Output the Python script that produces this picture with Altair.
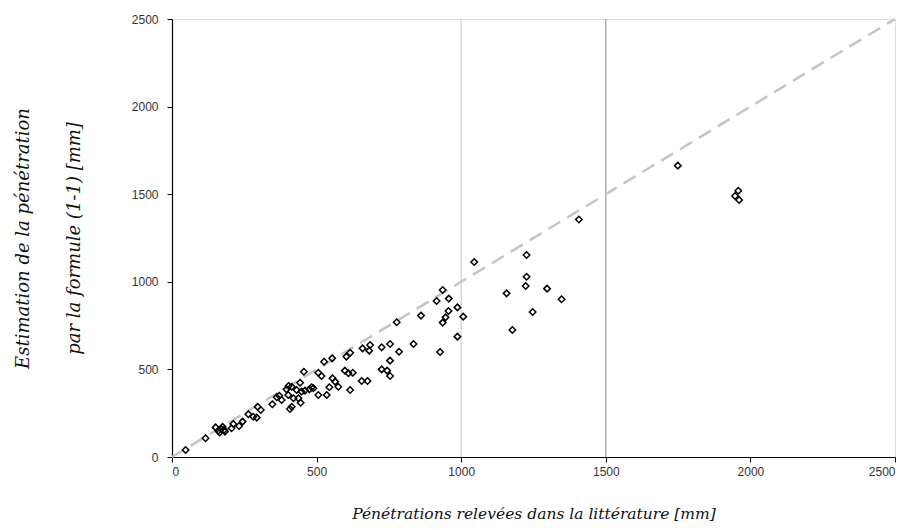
import altair as alt
import pandas as pd

# Measured penetration (literature) [mm]
x_obs = [47, 116, 151, 160, 165, 170, 175, 180, 183, 206, 212, 232, 244, 264, 281, 293, 296, 307,
         347, 362, 371, 379, 396, 402, 403, 408, 414, 414, 420, 431, 437, 443, 445, 448, 456, 460,
         475, 483, 489, 506, 506, 517, 526, 535, 544, 554, 555, 564, 575, 598, 603, 610, 616, 616,
         625, 656, 659, 676, 682, 685, 725, 725, 744, 754, 754, 754, 777, 785, 835, 861, 915, 927,
         936, 936, 946, 956, 957, 987, 987, 1007, 1045, 1157, 1177, 1223, 1226, 1226, 1247, 1297,
         1347, 1407, 1749, 1947, 1958, 1961]
# Estimated penetration by formula (1-1) [mm]
y_est = [40, 107, 169, 150, 140, 160, 172, 155, 145, 164, 188, 177, 202, 244, 230, 225, 287, 268,
         301, 341, 350, 325, 386, 354, 405, 274, 401, 287, 335, 382, 335, 424, 310, 373, 487, 379,
         386, 398, 392, 481, 354, 462, 544, 354, 398, 563, 449, 430, 401, 493, 573, 478, 595, 382,
         481, 434, 620, 434, 607, 639, 626, 500, 493, 645, 550, 462, 769, 601, 645, 807, 890, 599,
         953, 767, 797, 833, 904, 854, 687, 801, 1113, 934, 725, 976, 1153, 1029, 828, 961,
         900, 1356, 1663, 1490, 1520, 1467]

ref_line = [0, 2500]
grid_x = [1000, 1500]
grid_col = ["#d0d0d0", "#999999"]
ticks = [0, 500, 1000, 1500, 2000, 2500]

pts = pd.DataFrame({"x": x_obs, "y": y_est})
line_df = pd.DataFrame({"x": ref_line, "y": ref_line})
grid_df = pd.DataFrame({"x": grid_x, "c": grid_col})

xs = alt.Scale(domain=[0, 2500], nice=False, zero=True)
ys = alt.Scale(domain=[0, 2500], nice=False, zero=True)

label_font = "Liberation Sans"
title_font = "DejaVu Serif"

x_axis = alt.Axis(
    values=ticks, format="d", title="Pénétrations relevées dans la littérature [mm]",
    grid=False, domainColor="black", domainWidth=1.2, tickColor="black", tickSize=5,
    labelFont=label_font, labelFontSize=12, labelColor="#333333", labelPadding=4,
    titleFont=title_font, titleFontStyle="italic", titleFontWeight="normal",
    titleFontSize=15.5, titleColor="#111111", titleY=61, titleBaseline="alphabetic",
)
y_axis = alt.Axis(
    values=ticks, format="d", title=["Estimation de la pénétration", "par la formule (1-1) [mm]"],
    grid=False, domainColor="black", domainWidth=1.2, tickColor="black", tickSize=5,
    labelFont=label_font, labelFontSize=12, labelColor="#333333", labelPadding=9,
    titleFont=title_font, titleFontStyle="italic", titleFontWeight="normal",
    titleFontSize=18, titleColor="#111111", titleX=-144, titleY=219,
    titleAngle=-90, titleAlign="center", titleBaseline="alphabetic", titleLineHeight=51,
)

grid = alt.Chart(grid_df).mark_rule(strokeWidth=1.2).encode(
    x=alt.X("x:Q", scale=xs, axis=x_axis),
    color=alt.Color("c:N", scale=None),
)

ref = alt.Chart(line_df).mark_line(
    color="#c4c4c4", strokeWidth=2.5, strokeDash=[14, 8]
).encode(
    x=alt.X("x:Q", scale=xs, axis=x_axis),
    y=alt.Y("y:Q", scale=ys, axis=y_axis),
)

points = alt.Chart(pts).mark_point(
    shape="diamond", filled=False, color="black", size=42, strokeWidth=1.5, opacity=1
).encode(
    x=alt.X("x:Q", scale=xs, axis=x_axis),
    y=alt.Y("y:Q", scale=ys, axis=y_axis),
)

chart = alt.layer(grid, ref, points).properties(
    width=723, height=438,
    autosize=alt.AutoSizeParams(type="none"),
    padding={"left": 164, "top": 11, "right": 9, "bottom": 65},
).configure_view(stroke="#999999", strokeWidth=1.5).configure(background="white")

chart.save("out.html", embed_options={"renderer": "svg", "actions": False})
